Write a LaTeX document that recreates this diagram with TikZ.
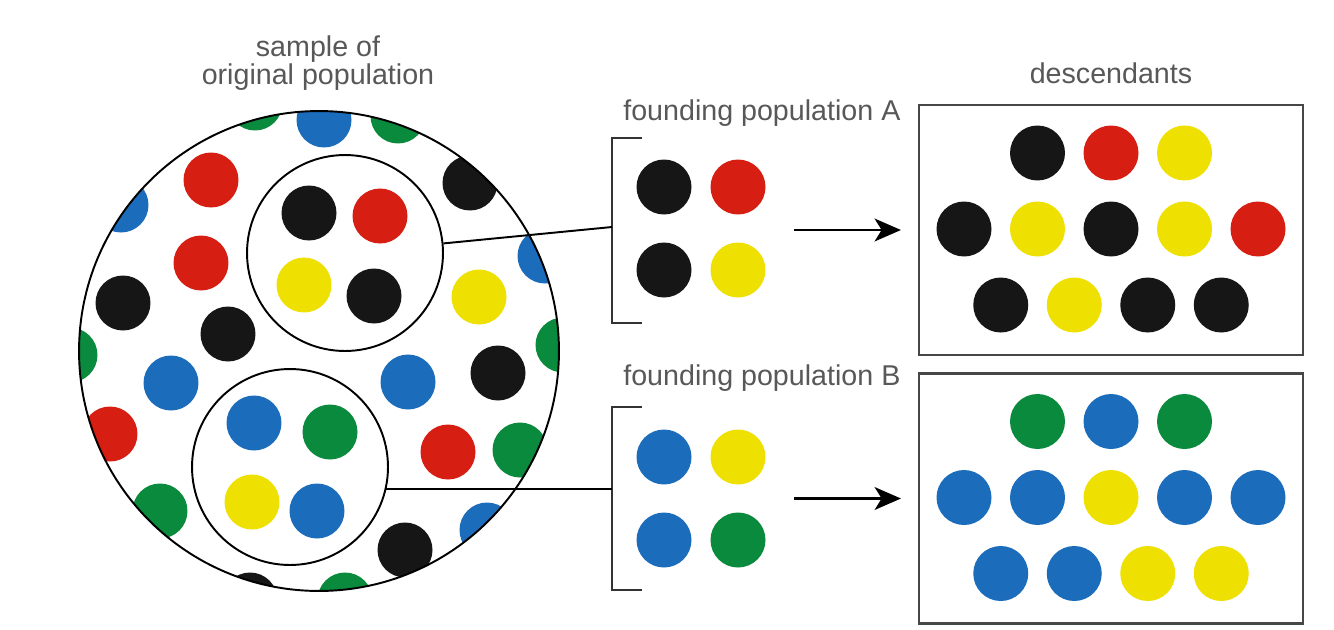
\documentclass[tikz,border=0pt]{standalone}
\usepackage{fontspec}
\setmainfont{Liberation Sans}
\usetikzlibrary{arrows.meta,positioning,calc}
\definecolor{dotred}{RGB}{214,30,18}
\definecolor{dotyel}{RGB}{238,224,0}
\definecolor{dotblu}{RGB}{28,108,188}
\definecolor{dotgrn}{RGB}{10,138,60}
\definecolor{dotblk}{RGB}{22,22,22}
\definecolor{txtgray}{RGB}{88,88,88}

\begin{document}
\begin{tikzpicture}[x=0.02cm, y=-0.02cm,
  dot/.style={circle, inner sep=0pt, minimum size=1.1cm},
  ring/.style={draw, circle, inner sep=0pt, line width=1.1pt},
  frame/.style={draw=black!72, line width=1.6pt, inner sep=0pt,
    minimum width=7.68cm, minimum height=5cm},
  lbl/.style={text=txtgray, inner sep=0pt, font=\fontsize{16.3}{16}\selectfont},
  brk/.style={draw=black!80, line width=1.5pt},
  link/.style={line width=1.1pt},
  arr/.style={-{Stealth[length=15pt, width=13pt, inset=4pt]}, line width=1.2pt}
]
\useasboundingbox[fill=white] (0,0) rectangle (1334,629);

\begin{scope}
  \clip (319,351) circle[radius=240];
  \foreach \x/\y/\c [count=\i] in {255/103/dotgrn, 324/120/dotblu, 398/116/dotgrn,
      211/180/dotred, 121/205/dotblu, 201/263/dotred, 470/183/dotblk, 123/303/dotblk,
      228/334/dotblk, 545/256/dotblu, 479/297/dotyel, 70/355/dotgrn, 563/345/dotgrn,
      171/383/dotblu, 408/382/dotblu, 498/373/dotblk, 110/434/dotred, 448/452/dotred,
      520/450/dotgrn, 160/511/dotgrn, 487/530/dotblu, 405/550/dotblk, 345/600/dotgrn,
      250/600/dotblk}
    \node[dot, fill=\c] (p\i) at (\x,\y) {};
\end{scope}
\node[ring, minimum size=9.6cm] (pool) at (319,351) {};
\node[lbl, align=center] (sample) at (318,63.5) {sample of\\original population};

\node[ring, fill=white, minimum size=3.92cm] (sampA) at (345,253) {};
\node[dot, fill=dotblk] (sa1) at (309,213) {};
\node[dot, fill=dotred] (sa2) at (380,216) {};
\node[dot, fill=dotyel] (sa3) at (304,285) {};
\node[dot, fill=dotblk] (sa4) at (374,296) {};

\node[ring, fill=white, minimum size=3.92cm] (sampB) at (290,467) {};
\node[dot, fill=dotblu] (sb1) at (254,423) {};
\node[dot, fill=dotgrn] (sb2) at (330,432) {};
\node[dot, fill=dotyel] (sb3) at (252,502) {};
\node[dot, fill=dotblu] (sb4) at (317,511) {};

\node[lbl, anchor=base west] (labA) at (623,120) {founding population A};
\coordinate (brA) at (612,227);
\draw[brk] (642,138) -| (612,323) -- (642,323);
\node[dot, fill=dotblk] (fa1) at (664,187) {};
\node[dot, fill=dotred] (fa2) at (738,187) {};
\node[dot, fill=dotblk] (fa3) at (664,270) {};
\node[dot, fill=dotyel] (fa4) at (738,270) {};

\node[lbl, anchor=base west] (labB) at (623,385) {founding population B};
\coordinate (brB) at (612,490);
\draw[brk] (642,407) -| (612,590) -- (642,590);
\node[dot, fill=dotblu] (fb1) at (664,457) {};
\node[dot, fill=dotyel] (fb2) at (738,457) {};
\node[dot, fill=dotblu] (fb3) at (664,540) {};
\node[dot, fill=dotgrn] (fb4) at (738,540) {};

\node[frame] (boxA) at (1111,230) {};
\node[lbl, anchor=base] (desc) at (1111,83) {descendants};
\foreach \c [count=\i] in {dotblk,dotred,dotyel}
  \node[dot, fill=\c] (da1\i) at ({1111+(\i-2)*73.5},153) {};
\foreach \c [count=\i] in {dotblk,dotyel,dotblk,dotyel,dotred}
  \node[dot, fill=\c] (da2\i) at ({1111+(\i-3)*73.5},229) {};
\foreach \c [count=\i] in {dotblk,dotyel,dotblk,dotblk}
  \node[dot, fill=\c] (da3\i) at ({1111+(\i-2.5)*73.5},305) {};

\node[frame] (boxB) at (1111,498.5) {};
\foreach \c [count=\i] in {dotgrn,dotblu,dotgrn}
  \node[dot, fill=\c] (db1\i) at ({1111+(\i-2)*73.5},421.5) {};
\foreach \c [count=\i] in {dotblu,dotblu,dotyel,dotblu,dotblu}
  \node[dot, fill=\c] (db2\i) at ({1111+(\i-3)*73.5},497.5) {};
\foreach \c [count=\i] in {dotblu,dotblu,dotyel,dotyel}
  \node[dot, fill=\c] (db3\i) at ({1111+(\i-2.5)*73.5},573.5) {};

\draw[link] (sampA) -- (brA);
\draw[link] (sampB.-13.5) -- (sampB.-13.5 -| brB);
\coordinate (arA) at (794,230);
\coordinate (arB) at (794,498.5);
\draw[arr, shorten >=9.5pt] (arA) -- (boxA);
\draw[arr, shorten >=9.5pt] (arB) -- (boxB);
\end{tikzpicture}
\end{document}
